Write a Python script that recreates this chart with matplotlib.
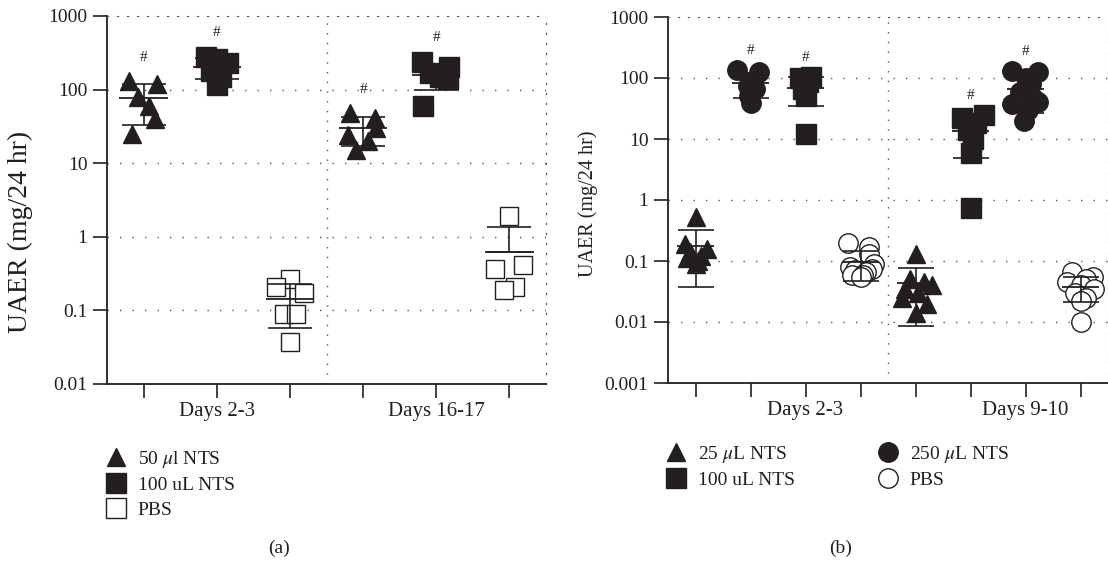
import numpy as np
import matplotlib.pyplot as plt
from matplotlib.lines import Line2D
from matplotlib import transforms

plt.rcParams['font.family'] = ['Liberation Serif', 'DejaVu Serif']
plt.rcParams['mathtext.fontset'] = 'stix'

INK = '#231f20'

# ---- panel (a) data : UAER (mg/24 hr), x jitter ----
a_positions = [1, 2, 3, 4, 5, 6]
a_tri_d23 = [130, 120, 80, 60, 40, 25]
a_tri_d23_off = [-0.2, 0.19, -0.08, 0.08, 0.16, -0.16]
a_sq_d23 = [280, 260, 230, 180, 150, 115]
a_sq_d23_off = [-0.15, 0.0, 0.15, -0.08, 0.06, 0.0]
a_pbs_d23 = [0.27, 0.21, 0.17, 0.09, 0.09, 0.037]
a_pbs_d23_off = [0.0, -0.19, 0.19, -0.08, 0.08, 0.0]
a_tri_d16 = [48, 41, 30, 24, 20, 15]
a_tri_d16_off = [-0.18, 0.16, 0.18, -0.2, 0.07, -0.1]
a_sq_d16 = [240, 200, 170, 150, 140, 60]
a_sq_d16_off = [-0.19, 0.18, -0.08, 0.05, 0.16, -0.18]
a_pbs_d16 = [1.9, 0.42, 0.36, 0.21, 0.19]
a_pbs_d16_off = [0.0, 0.19, -0.2, 0.08, -0.08]
a_hash = [True, True, False, True, True, False]
a_days = ['Days 2-3', 'Days 16-17']
a_day_pos = [2, 5]
a_legend = ['50 $\\mu$l NTS', '100 uL NTS', 'PBS']

# ---- panel (b) data ----
b_positions = [1, 2, 3, 4, 5, 6, 7, 8]
b_tri_d2 = [0.52, 0.19, 0.16, 0.14, 0.12, 0.11, 0.10, 0.09]
b_tri_d2_off = [0.0, -0.2, 0.2, -0.1, 0.1, -0.15, 0.05, 0.0]
b_circ_d2 = [135, 125, 90, 75, 65, 50, 39]
b_circ_d2_off = [-0.24, 0.16, 0.05, -0.05, 0.08, -0.02, 0.0]
b_sq_d2 = [105, 100, 85, 65, 50, 12]
b_sq_d2_off = [0.1, -0.1, 0.05, -0.05, 0.0, 0.0]
b_pbs_d2 = [0.2, 0.17, 0.13, 0.09, 0.08, 0.075, 0.07, 0.065, 0.06, 0.058, 0.055]
b_pbs_d2_off = [-0.22, 0.15, 0.15, 0.25, -0.2, 0.2, -0.1, 0.1, -0.15, 0.05, 0.0]
b_tri_d9 = [0.13, 0.05, 0.045, 0.04, 0.035, 0.03, 0.025, 0.02, 0.014]
b_tri_d9_off = [0.0, -0.1, 0.15, 0.3, -0.2, 0.05, -0.25, 0.2, 0.0]
b_sq_d9 = [25, 22, 18, 14, 10, 6, 0.75]
b_sq_d9_off = [0.24, -0.15, 0.1, -0.05, 0.05, 0.0, 0.0]
b_circ_d9 = [130, 125, 100, 80, 60, 45, 40, 38, 30, 20]
b_circ_d9_off = [-0.24, 0.22, 0.0, 0.1, -0.1, 0.15, 0.22, -0.24, 0.05, -0.02]
b_pbs_d9 = [0.065, 0.055, 0.05, 0.045, 0.04, 0.035, 0.03, 0.025, 0.022, 0.01]
b_pbs_d9_off = [-0.15, 0.22, 0.1, -0.25, 0.0, 0.25, -0.1, 0.1, 0.0, 0.0]
b_hash = [False, True, True, False, False, True, True, False]
b_days = ['Days 2-3', 'Days 9-10']
b_day_pos = [3, 7]
b_legend = ['25 $\\mu$L NTS', '100 uL NTS', '250 $\\mu$L NTS', 'PBS']

y_ticks_a = [0.01, 0.1, 1, 10, 100, 1000]
y_ticks_b = [0.001, 0.01, 0.1, 1, 10, 100, 1000]


def draw_group(ax, x, vals, offs, marker, filled, ms, hash_mark, cap):
    vals = np.array(vals, dtype=float)
    xs = x + np.array(offs)
    fc = INK if filled else 'white'
    ax.plot(xs, vals, ls='none', marker=marker, ms=ms, mfc=fc, mec=INK,
            mew=1.0, zorder=3)
    m = vals.mean()
    sd = vals.std(ddof=1)
    lo = sd if m - sd > 0 else 0
    ax.errorbar([x], [m], yerr=[[lo], [sd]], fmt='none', ecolor=INK,
                elinewidth=1.2, capsize=cap, capthick=1.2, zorder=4)
    ax.hlines(m, x - 0.33, x + 0.33, color=INK, lw=1.3, zorder=4)
    if hash_mark:
        ax.text(x, vals.max() * 2.1, '#', ha='center', va='center',
                fontsize=11, color=INK)


def style_axis(ax, yticks, xlim, positions, sep, days, day_pos, lab_size):
    ax.set_yscale('log')
    ax.set_ylim(yticks[0], yticks[-1])
    ax.set_xlim(*xlim)
    ax.set_yticks(yticks)
    ax.set_yticklabels([('%g' % t) for t in yticks])
    ax.minorticks_off()
    ax.set_xticks(positions)
    ax.set_xticklabels([])
    ax.tick_params(direction='out', length=10, width=1.2, colors=INK,
                   labelsize=14, pad=4)
    for s in ['left', 'bottom']:
        ax.spines[s].set_linewidth(1.3)
        ax.spines[s].set_color(INK)
    for s in ['top', 'right']:
        ax.spines[s].set_linestyle((0, (1, 8)))
        ax.spines[s].set_color('#555555')
    for t in yticks[1:-1]:
        ax.axhline(t, color='#555555', lw=1.0, ls=(0, (1, 8)), zorder=1)
    ax.axvline(sep, color='#555555', lw=1.0, ls=(0, (1, 6)), zorder=1)
    trans = transforms.blended_transform_factory(ax.transData, ax.transAxes)
    for lab, p in zip(days, day_pos):
        ax.text(p, -0.075, lab, transform=trans, ha='center', va='center',
                fontsize=15, color=INK)
    ax.set_ylabel('UAER (mg/24 hr)', fontsize=lab_size, color=INK)


fig = plt.figure(figsize=(11.08, 5.63), dpi=100)
ax1 = fig.add_axes([107 / 1108, 1 - 384 / 563, 439 / 1108, 368 / 563])
ax2 = fig.add_axes([668 / 1108, 1 - 383 / 563, 440 / 1108, 366 / 563])

# panel (a)
groups_a = [
    (a_tri_d23, a_tri_d23_off, '^', True, 13),
    (a_sq_d23, a_sq_d23_off, 's', True, 14),
    (a_pbs_d23, a_pbs_d23_off, 's', False, 13),
    (a_tri_d16, a_tri_d16_off, '^', True, 13),
    (a_sq_d16, a_sq_d16_off, 's', True, 14),
    (a_pbs_d16, a_pbs_d16_off, 's', False, 13),
]
for p, (v, o, mk, f, ms), h in zip(a_positions, groups_a, a_hash):
    draw_group(ax1, p, v, o, mk, f, ms, h, 16)
style_axis(ax1, y_ticks_a, (0.5, 6.5), a_positions, 3.5, a_days, a_day_pos, 20)
ax1.yaxis.set_label_coords(-0.168, 0.413)

# panel (b)
groups_b = [
    (b_tri_d2, b_tri_d2_off, '^', True, 13),
    (b_circ_d2, b_circ_d2_off, 'o', True, 14),
    (b_sq_d2, b_sq_d2_off, 's', True, 14),
    (b_pbs_d2, b_pbs_d2_off, 'o', False, 14),
    (b_tri_d9, b_tri_d9_off, '^', True, 13),
    (b_sq_d9, b_sq_d9_off, 's', True, 14),
    (b_circ_d9, b_circ_d9_off, 'o', True, 14),
    (b_pbs_d9, b_pbs_d9_off, 'o', False, 14),
]
for p, (v, o, mk, f, ms), h in zip(b_positions, groups_b, b_hash):
    draw_group(ax2, p, v, o, mk, f, ms, h, 13)
style_axis(ax2, y_ticks_b, (0.5, 8.5), b_positions, 4.5, b_days, b_day_pos, 14.5)
ax2.yaxis.set_label_coords(-0.159, 0.49)


def handle(marker, filled, ms):
    return Line2D([], [], ls='none', marker=marker, ms=ms,
                  mfc=INK if filled else 'white', mec=INK, mew=1.0)


leg_a = [handle('^', True, 13), handle('s', True, 14), handle('s', False, 14)]
fig.legend(leg_a, a_legend, loc='upper left',
           bbox_to_anchor=(97 / 1108, 1 - 439 / 563), frameon=False,
           fontsize=14, handlelength=1.0, handletextpad=0.6,
           labelspacing=0.35, borderpad=0, labelcolor=INK)

leg_b = [handle('^', True, 13), handle('s', True, 14),
         handle('o', True, 14), handle('o', False, 14)]
fig.legend(leg_b, b_legend, loc='upper left', ncol=2,
           bbox_to_anchor=(657 / 1108, 1 - 434 / 563), frameon=False,
           fontsize=14, handlelength=1.0, handletextpad=0.6,
           labelspacing=0.35, borderpad=0, columnspacing=4.3,
           labelcolor=INK)

fig.text(279 / 1108, 1 - 548 / 563, '(a)', ha='center', va='center',
         fontsize=14, color=INK)
fig.text(841 / 1108, 1 - 548 / 563, '(b)', ha='center', va='center',
         fontsize=14, color=INK)

fig.savefig('out.png', dpi=100)
